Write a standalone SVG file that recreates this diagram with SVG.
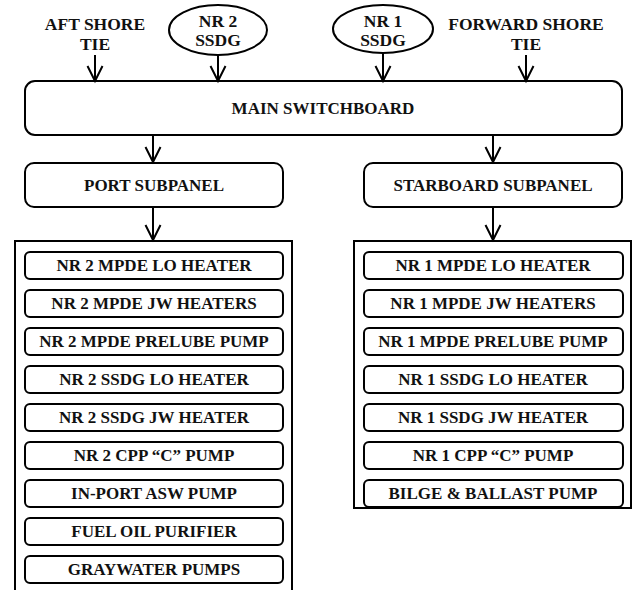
<svg xmlns="http://www.w3.org/2000/svg" width="638" height="590" viewBox="0 0 638 590">
<style>
.box{fill:#fff;stroke:#000;stroke-width:2}
.t{font-family:"Liberation Serif","Times New Roman",serif;font-weight:bold;font-size:17px;text-anchor:middle;fill:#111}
.tl{font-family:"Liberation Serif","Times New Roman",serif;font-weight:bold;font-size:17.5px;text-anchor:middle;fill:#111}
.c{fill:none;stroke:#000;stroke-width:2}
</style>
<rect width="638" height="590" fill="#fff"/>
<g id="aft-shore-tie"><text class="tl" x="95" y="30">AFT SHORE</text><text class="tl" x="95" y="50">TIE</text></g>
<g id="nr2-ssdg"><ellipse class="box" cx="218" cy="30" rx="49" ry="25"/><text class="tl" x="218" y="27">NR 2</text><text class="tl" x="218" y="46">SSDG</text></g>
<g id="nr1-ssdg"><ellipse class="box" cx="383" cy="29" rx="50" ry="24"/><text class="tl" x="383" y="27">NR 1</text><text class="tl" x="383" y="46">SSDG</text></g>
<g id="fwd-shore-tie"><text class="tl" x="526" y="30">FORWARD SHORE</text><text class="tl" x="526" y="50">TIE</text></g>
<g id="main-switchboard"><rect class="box" x="25" y="81" width="597" height="54" rx="10"/><text class="t" x="323" y="114">MAIN SWITCHBOARD</text></g>
<g id="port-subpanel"><rect class="box" x="25" y="163" width="258" height="44" rx="9"/><text class="t" x="154" y="191">PORT SUBPANEL</text></g>
<g id="stbd-subpanel"><rect class="box" x="364" y="163" width="258" height="44" rx="9"/><text class="t" x="493" y="191">STARBOARD SUBPANEL</text></g>
<g id="port-loads">
<rect class="box" x="15" y="241" width="277" height="360"/>
<g id="p1"><rect class="box" x="25" y="252" width="258" height="27" rx="5"/><text class="t" x="154" y="271">NR 2 MPDE LO HEATER</text></g>
<g id="p2"><rect class="box" x="25" y="290" width="258" height="27" rx="5"/><text class="t" x="154" y="309">NR 2 MPDE JW HEATERS</text></g>
<g id="p3"><rect class="box" x="25" y="328" width="258" height="27" rx="5"/><text class="t" x="154" y="347">NR 2 MPDE PRELUBE PUMP</text></g>
<g id="p4"><rect class="box" x="25" y="366" width="258" height="27" rx="5"/><text class="t" x="154" y="385">NR 2 SSDG LO HEATER</text></g>
<g id="p5"><rect class="box" x="25" y="404" width="258" height="27" rx="5"/><text class="t" x="154" y="423">NR 2 SSDG JW HEATER</text></g>
<g id="p6"><rect class="box" x="25" y="442" width="258" height="27" rx="5"/><text class="t" x="154" y="461">NR 2 CPP “C” PUMP</text></g>
<g id="p7"><rect class="box" x="25" y="480" width="258" height="27" rx="5"/><text class="t" x="154" y="499">IN-PORT ASW PUMP</text></g>
<g id="p8"><rect class="box" x="25" y="518" width="258" height="27" rx="5"/><text class="t" x="154" y="537">FUEL OIL PURIFIER</text></g>
<g id="p9"><rect class="box" x="25" y="556" width="258" height="27" rx="5"/><text class="t" x="154" y="575">GRAYWATER PUMPS</text></g>
</g>
<g id="stbd-loads">
<rect class="box" x="354" y="241" width="277" height="267"/>
<g id="s1"><rect class="box" x="364" y="252" width="259" height="27" rx="5"/><text class="t" x="493" y="271">NR 1 MPDE LO HEATER</text></g>
<g id="s2"><rect class="box" x="364" y="290" width="259" height="27" rx="5"/><text class="t" x="493" y="309">NR 1 MPDE JW HEATERS</text></g>
<g id="s3"><rect class="box" x="364" y="328" width="259" height="27" rx="5"/><text class="t" x="493" y="347">NR 1 MPDE PRELUBE PUMP</text></g>
<g id="s4"><rect class="box" x="364" y="366" width="259" height="27" rx="5"/><text class="t" x="493" y="385">NR 1 SSDG LO HEATER</text></g>
<g id="s5"><rect class="box" x="364" y="404" width="259" height="27" rx="5"/><text class="t" x="493" y="423">NR 1 SSDG JW HEATER</text></g>
<g id="s6"><rect class="box" x="364" y="442" width="259" height="27" rx="5"/><text class="t" x="493" y="461">NR 1 CPP “C” PUMP</text></g>
<g id="s7"><rect class="box" x="364" y="480" width="259" height="27" rx="5"/><text class="t" x="493" y="499">BILGE &amp; BALLAST PUMP</text></g>
</g>
<g id="connectors">
<path class="c" d="M95 55V81M87.5 66L95 81L102.5 66"/>
<path class="c" d="M218 55V81M210.5 66L218 81L225.5 66"/>
<path class="c" d="M383 53V81M375.5 66L383 81L390.5 66"/>
<path class="c" d="M526 55V81M518.5 66L526 81L533.5 66"/>
<path class="c" d="M153 135V162M145.5 147L153 162L160.5 147"/>
<path class="c" d="M493 135V162M485.5 147L493 162L500.5 147"/>
<path class="c" d="M153 207V240M145.5 225L153 240L160.5 225"/>
<path class="c" d="M493 207V240M485.5 225L493 240L500.5 225"/>
</g>
</svg>
